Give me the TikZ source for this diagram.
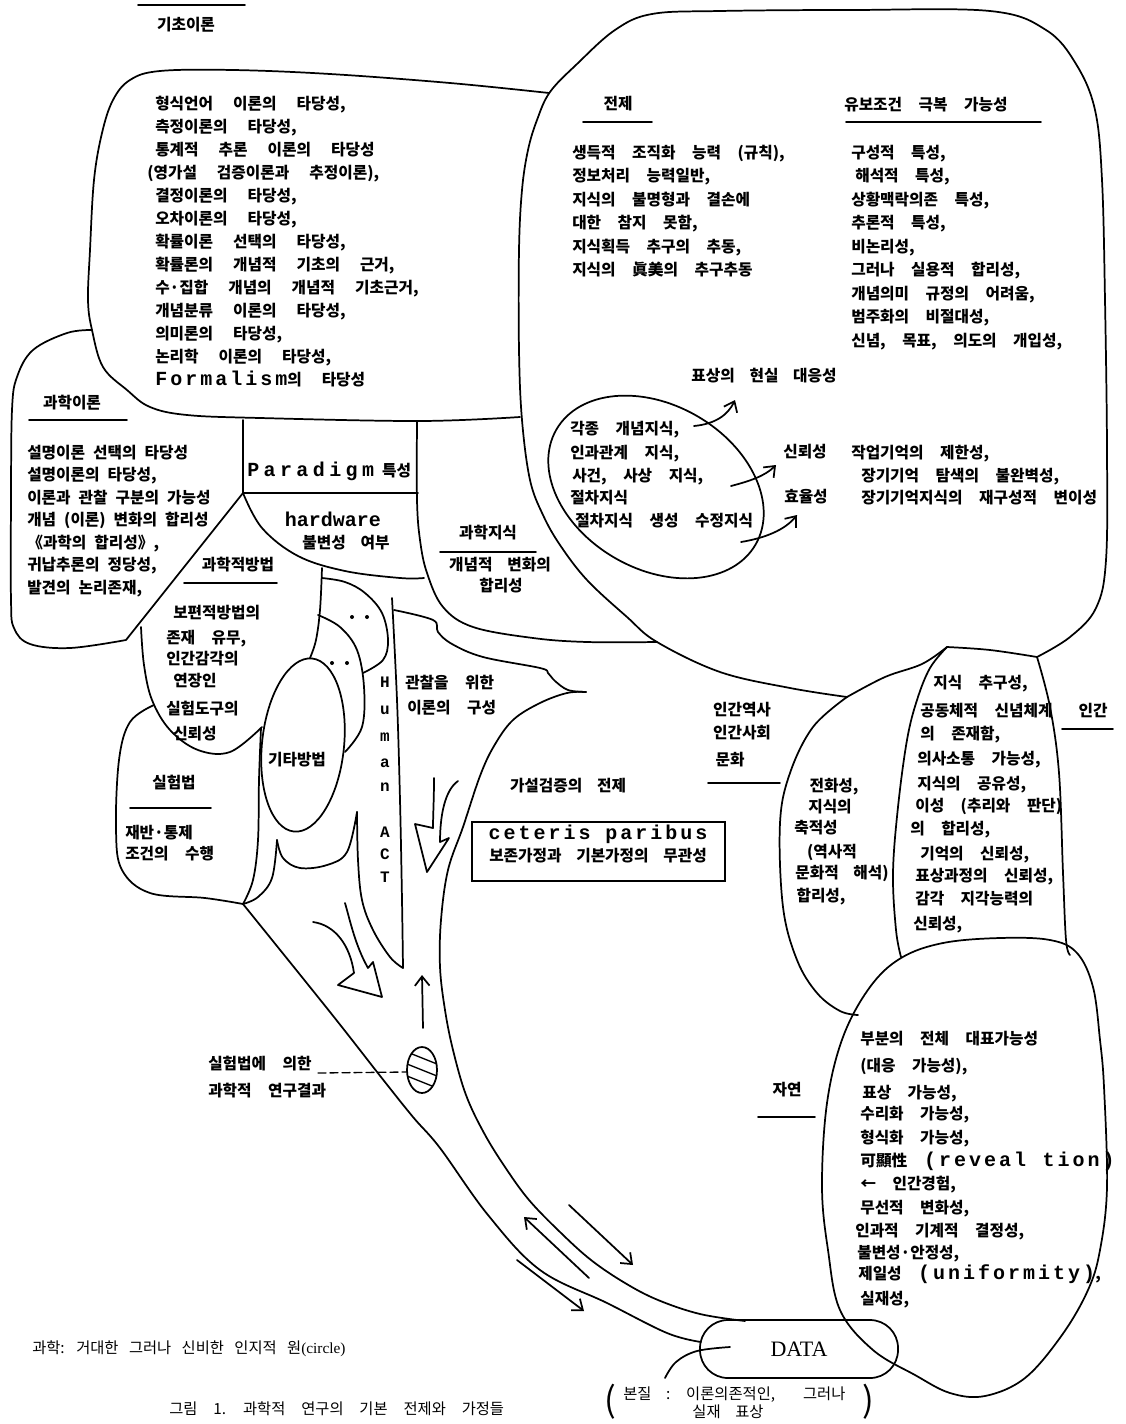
\documentclass[tikz,border=0pt]{standalone}
\usepackage{fontspec}
\usetikzlibrary{arrows.meta}
\newfontfamily\kr{Noto Sans CJK KR}
\newfontfamily\lat{Liberation Mono}[LetterSpace=15]
\newfontfamily\latp{Liberation Mono}[LetterSpace=22]
\newfontfamily\latn{Liberation Mono}
\newfontfamily\ser{Liberation Serif}
\newcommand\Lw[1]{{\lat\fontsize{15}{15}\selectfont #1}}
\newcommand\Lp[1]{{\latp\fontsize{15}{15}\selectfont #1}}
\newcommand\Ln[1]{{\latn\fontsize{15}{15}\selectfont #1}}
\tikzset{
 ol/.style={line width=1.3pt,line cap=round,line join=round},
 sl/.style={line width=1pt,line cap=round},
 kA/.style={font=\kr\bfseries\fontsize{11.8}{14}\selectfont,inner sep=0pt,anchor=base west,execute at begin node={\spaceskip=15pt\relax}},
 kB/.style={font=\kr\bfseries\fontsize{11.8}{14}\selectfont,inner sep=0pt,anchor=base west,execute at begin node={\spaceskip=6pt\relax}},
 kC/.style={font=\kr\bfseries\fontsize{11.8}{14}\selectfont,inner sep=0pt,anchor=base west,execute at begin node={\spaceskip=12.4pt\relax}},
 lab/.style={font=\kr\bfseries\fontsize{11.8}{14}\selectfont,inner sep=0pt,execute at begin node={\spaceskip=11pt\relax}},
 captxt/.style={font=\kr\fontsize{11.5}{14}\selectfont,inner sep=0pt,anchor=base west,execute at begin node={\spaceskip=7.8pt\relax}},
 captxtb/.style={font=\kr\fontsize{11.5}{14}\selectfont,inner sep=0pt,anchor=base west,execute at begin node={\spaceskip=11.9pt\relax}},
 capc/.style={font=\kr\fontsize{11.5}{14}\selectfont,inner sep=0pt,execute at begin node={\spaceskip=11pt\relax}},
 hum/.style={font=\latn\bfseries\fontsize{12}{12}\selectfont,inner sep=0pt},
 arr/.style={ol,-{Straight Barb[length=7pt,width=11pt]}},
 dot/.style={fill=black,inner sep=0pt,minimum size=3pt,circle},
}
\begin{document}
\begin{tikzpicture}[x=0.75pt,y=-0.75pt]
\useasboundingbox (0,0) rectangle (1125,1424);

% ---------------- outlines ----------------
\draw[ol] (138,5) -- (245,5);
% top-left box
\draw[ol] plot[smooth,tension=0.6] coordinates {(549,93) (450,83) (330,74) (233,70) (160,71) (130,80) (113,100) (102,133) (94,180) (90,250) (88,300) (92,330) (103,367) (127,390) (150,407) (187,415) (260,418) (420,421) (520,417)};
% science-theory blob
\draw[ol] plot[smooth,tension=0.6] coordinates {(92,330) (67,333) (33,350) (17,377) (12,410) (11,500) (11,600) (14,628) (30,644) (70,648) (126,640)} -- (243,493) -- (243,420);
\draw[ol] (243,493) -- (418,493);
\draw[ol] plot[smooth,tension=0.6] coordinates {(417,421) (417,500) (420,540) (427,573) (443,607) (473,627) (533,638) (587,642) (657,642)};
\draw[ol] plot[smooth,tension=0.6] coordinates {(243,493) (262,528) (298,556) (345,571) (400,578) (424,578)};
% big right blob
\draw[ol] plot[smooth,tension=0.6] coordinates {(847,697) (790,688) (720,672) (657,642) (627,617) (587,580) (560,545) (543,515) (530,480) (522,420) (519,350) (519,250) (522,190) (528,150) (537,120) (550,92) (577,64) (615,30) (652,14) (720,11) (850,10) (990,11) (1046,30) (1076,64) (1095,110) (1102,180) (1105,300) (1107,450) (1106,560) (1096,608) (1070,637) (1037,657)};
\draw[ol] plot[smooth,tension=0.6] coordinates {(847,697) (885,677) (922,664) (947,647)};
\draw[ol] plot[smooth,tension=0.6] coordinates {(947,647) (990,650) (1037,657)};
% lower right blobs
\draw[ol] plot[smooth,tension=0.6] coordinates {(847,697) (813,727) (790,773) (780,823) (783,907) (797,960) (817,993) (840,1011) (858,1015)};
\draw[ol] plot[smooth,tension=0.6] coordinates {(947,647) (930,668) (917,700) (907,740) (898,807) (893,873) (896,930) (901,957)};
\draw[ol] plot[smooth,tension=0.6] coordinates {(1037,657) (1050,707) (1059,773) (1063,873) (1066,940) (1070,955)};
\draw[ol] plot[smooth cycle,tension=0.6] coordinates {(915,1375) (873,1350) (840,1310) (828,1250) (822,1187) (827,1103) (843,1037) (870,987) (901,958) (943,943) (1000,938) (1050,940) (1077,953) (1093,987) (1100,1040) (1104,1087) (1107,1187) (1100,1250) (1088,1290) (1062,1335) (1025,1378) (985,1396) (950,1393)};
% knowledge ellipse
\draw[ol,rotate around={-30:(656,487)}] (656,487) ellipse [x radius=115, y radius=82];
% method shapes
\draw[ol] plot[smooth,tension=0.6] coordinates {(322,568) (320,610) (316,640) (310,658)};
\draw[ol] plot[smooth,tension=0.6] coordinates {(141,627) (144,665) (152,700) (170,730) (198,750) (230,752) (262,727)};
\draw[ol] plot[smooth,tension=0.6] coordinates {(322,578) (345,582) (365,593) (382,613) (388,640) (383,660) (363,673)};
\draw[ol] plot[smooth,tension=0.6] coordinates {(318,615) (340,627) (357,650) (364,687) (362,727) (345,752)};
\draw[ol,rotate around={-6:(303,745)}] (303,745) ellipse [x radius=41, y radius=87];
\node[dot] (d1) at (352,617) {};
\node[dot] (d2) at (367,617) {};
\node[dot] (d3) at (332,663) {};
\node[dot] (d4) at (347,663) {};
% experiment blob
\draw[ol] plot[smooth,tension=0.6] coordinates {(154,705) (130,722) (119,760) (116,830) (122,870) (150,893) (205,898) (243,904)};
\draw[ol] plot[smooth,tension=0.6] coordinates {(261,728) (259,780) (258,840) (253,880) (243,904)};
% cusps and funnel
\draw[ol] plot[smooth,tension=0.6] coordinates {(243,904) (258,897) (272,878) (277,840)};
\draw[ol] plot[smooth,tension=0.6] coordinates {(277,840) (283,858) (300,868) (327,865) (347,852) (357,812)};
\draw[ol] plot[smooth,tension=0.6] coordinates {(357,812) (358,860) (362,900) (373,930) (390,957) (403,968)};
\draw[ol] plot[smooth,tension=0.6] coordinates {(392,598) (397,700) (400,800) (402,900) (403,968)};
% observation theory region
\draw[ol] plot[smooth,tension=0.6] coordinates {(394,610) (433,620) (438,632) (452,644) (483,657) (540,668) (548,673) (555,681) (568,690) (586,692)};
\draw[ol] plot[smooth,tension=0.6] coordinates {(586,692) (567,693) (540,703) (513,720) (494,746) (480,776) (463,827) (448,870) (441,920) (440,967) (445,1010) (453,1050) (466,1095) (484,1133) (505,1167) (529,1200) (560,1232) (591,1260) (625,1283) (658,1300) (700,1314) (745,1321)};
\draw[ol] plot[smooth,tension=0.6] coordinates {(243,904) (330,1012) (381,1077) (413,1117) (440,1148) (488,1215) (540,1270) (607,1303) (667,1333) (701,1342)};
% hollow arrows
\draw[ol] (434,778) .. controls (434,800) and (433,815) .. (433,828) -- (415,824) -- (427,872) -- (449,838) -- (440,842) .. controls (440,815) and (445,790) .. (458,781);
\draw[ol] (313,922) .. controls (335,925) and (350,945) .. (354,973) -- (338,985) -- (382,997) -- (373,962) -- (368,968) .. controls (355,945) and (350,920) .. (345,903);
\draw[arr] (423,1028) -- (422,975);
% hatched result
\coordinate (hc) at (422,1070);
\draw[ol] (hc) ellipse [x radius=15, y radius=23];
\begin{scope}
\clip (hc) ellipse [x radius=15, y radius=23];
\foreach \d in {-24,-12,0,12,24} \draw[sl] (402,1070+\d-8) -- (442,1070+\d+8);
\end{scope}
\coordinate (dl) at (318,1073);
\coordinate (hl) at (407,1072);
\draw[sl,dash pattern=on 6pt off 3pt] (dl) -- (hl);
% arm arrows
\draw[arr] (569,1205) -- (633,1265);
\draw[arr] (589,1278) -- (524,1217);
\draw[arr] (517,1260) -- (584,1311);
% knowledge arrows
\draw[arr] (694,426) .. controls (715,424) and (728,415) .. (735,400);
\draw[arr] (731,486) .. controls (750,481) and (765,476) .. (776,465);
\draw[arr] (741,542) .. controls (765,538) and (785,530) .. (797,515);
% DATA
\node[draw,ol,rounded corners=21pt,minimum width=148.5pt,minimum height=43.5pt,inner sep=0pt,font=\ser\fontsize{16.5}{16.5}\selectfont] (data) at (799,1349) {DATA};
\draw[ol] plot[smooth,tension=0.6] coordinates {(730,1347) (697,1351) (676,1362) (665,1378)};
% ceteris box
\node[draw,line width=1pt,minimum width=189.75pt,minimum height=44.25pt,inner sep=0pt] (cet) at (598.5,851.5) {};
\node[lab] (cet1) at (598,834) {\Lw{ceteris paribus}};
\node[lab] (cet2) at (598,856) {보존가정과 기본가정의 무관성};

% underlines
\draw[ol] (29,420) -- (127,420);
\draw[ol] (184,583) -- (277,583);
\draw[ol] (440,552) -- (536,552);
\draw[ol] (583,122) -- (652,122);
\draw[ol] (846,122) -- (1041,122);
\draw[ol] (130,808) -- (211,808);
\draw[ol] (708,783) -- (780,783);
\draw[ol] (1062,729) -- (1113,729);
\draw[ol] (758,1117) -- (815,1117);

% ---------------- texts ----------------
\node[lab] (t0) at (186,25) {기초이론};
\node[kA] (tl1) at (155,109) {형식언어 이론의 타당성,};
\node[kA] (tl2) at (155,132) {측정이론의 타당성,};
\node[kA] (tl3) at (155,155) {통계적 추론 이론의 타당성};
\node[kA] (tl4) at (147,178) {(영가설 검증이론과 추정이론),};
\node[kA] (tl5) at (155,201) {결정이론의 타당성,};
\node[kA] (tl6) at (155,224) {오차이론의 타당성,};
\node[kA] (tl7) at (155,247) {확률이론 선택의 타당성,};
\node[kA] (tl8) at (155,270) {확률론의 개념적 기초의 근거,};
\node[kA] (tl9) at (155,293) {수·집합 개념의 개념적 기초근거,};
\node[kA] (tl10) at (155,316) {개념분류 이론의 타당성,};
\node[kA] (tl11) at (155,339) {의미론의 타당성,};
\node[kA] (tl12) at (155,362) {논리학 이론의 타당성,};
\node[kA] (tl13) at (155,385) {\Lw{Formalism}의 타당성};

\node[lab] (st0) at (72,403) {과학이론};
\node[kB] (st1) at (27,458) {설명이론 선택의 타당성};
\node[kB] (st2) at (27,480) {설명이론의 타당성,};
\node[kB] (st3) at (27,503) {이론과 관찰 구분의 가능성};
\node[kB] (st4) at (27,525) {개념 (이론) 변화의 합리성};
\node[kB] (st5) at (27,548) {《과학의 합리성》,};
\node[kB] (st6) at (27,570) {귀납추론의 정당성,};
\node[kB] (st7) at (27,593) {발견의 논리존재,};

\node[kB] (pa) at (247,476) {\Lp{Paradigm} 특성};
\node[lab] (hw1) at (333,519) {\Ln{hardware}};
\node[lab] (hw2) at (346,543) {불변성 여부};
\node[lab] (sm) at (238,565) {과학적방법};
\node[lab] (sk0) at (488,533) {과학지식};
\node[lab] (sk1) at (500,565) {개념적 변화의};
\node[lab] (sk2) at (501,586) {합리성};

\node[kC] (m1) at (173,618) {보편적방법의};
\node[kC] (m2) at (166,643) {존재 유무,};
\node[kC] (m3) at (166,664) {인간감각의};
\node[kC] (m4) at (173,686) {연장인};
\node[kC] (m5) at (166,714) {실험도구의};
\node[kC] (m6) at (173,739) {신뢰성};
\node[lab] (om) at (297,760) {기타방법};
\node[lab] (ex0) at (174,783) {실험법};
\node[kC] (ex1) at (125,838) {재반·통제};
\node[kC] (ex2) at (125,859) {조건의 수행};

\foreach \ch/\yy in {H/682,u/710,m/737,a/763,n/787,A/832,C/854,T/877}
  \node[hum] (h\ch) at (385,\yy) {\ch};
\node[kC] (ob1) at (405,688) {관찰을 위한};
\node[kC] (ob2) at (407,713) {이론의 구성};
\node[lab] (hy) at (568,786) {가설검증의 전제};
\node[kC] (rs1) at (208,1069) {실험법에 의한};
\node[kC] (rs2) at (208,1096) {과학적 연구결과};

\node[lab] (pr0) at (618,104) {전제};
\node[kC] (rv0) at (844,110) {유보조건 극복 가능성};
\node[kC] (p1) at (572,158) {생득적 조직화 능력 (규칙),};
\node[kC] (p2) at (572,181) {정보처리 능력일반,};
\node[kC] (p3) at (572,205) {지식의 불명형과 결손에};
\node[kC] (p4) at (572,228) {대한 참지 못함,};
\node[kC] (p5) at (572,252) {지식획득 추구의 추동,};
\node[kC] (p6) at (572,275) {지식의 眞美의 추구추동};
\node[kC] (r1) at (851,158) {구성적 특성,};
\node[kC] (r2) at (855,181) {해석적 특성,};
\node[kC] (r3) at (851,205) {상황맥락의존 특성,};
\node[kC] (r4) at (851,228) {추론적 특성,};
\node[kC] (r5) at (851,252) {비논리성,};
\node[kC] (r6) at (851,275) {그러나 실용적 합리성,};
\node[kC] (r7) at (851,299) {개념의미 규정의 어려움,};
\node[kC] (r8) at (851,322) {범주화의 비절대성,};
\node[kC] (r9) at (851,346) {신념, 목표, 의도의 개입성,};
\node[lab] (rep) at (764,376) {표상의 현실 대응성};
\node[kC] (k1) at (570,434) {각종 개념지식,};
\node[kC] (k2) at (570,458) {인과관계 지식,};
\node[kC] (k3) at (572,481) {사건, 사상 지식,};
\node[kC] (k4) at (570,503) {절차지식};
\node[kC] (k5) at (575,526) {절차지식 생성 수정지식};
\node[lab] (rel) at (805,452) {신뢰성};
\node[lab] (eff) at (806,497) {효율성};
\node[kC] (w1) at (851,458) {작업기억의 제한성,};
\node[kC] (w2) at (861,481) {장기기억 탐색의 불완벽성,};
\node[kC] (w3) at (861,503) {장기기억지식의 재구성적 변이성};

\node[lab] (hs1) at (742,710) {인간역사};
\node[lab] (hs2) at (742,733) {인간사회};
\node[lab] (hs3) at (730,760) {문화};
\node[lab] (c1) at (834,787) {전화성,};
\node[lab] (c2) at (830,807) {지식의};
\node[lab] (c3) at (816,828) {축적성};
\node[lab] (c4) at (832,852) {(역사적};
\node[lab] (c5) at (842,873) {문화적 해석)};
\node[lab] (c6) at (821,897) {합리성,};
\node[kC] (h1) at (933,688) {지식 추구성,};
\node[kC] (h2) at (920,716) {공동체적 신념체계};
\node[kC] (h3) at (920,739) {의 존재함,};
\node[kC] (h4) at (917,764) {의사소통 가능성,};
\node[kC] (h5) at (917,789) {지식의 공유성,};
\node[kC] (h6) at (915,811) {이성 (추리와 판단)};
\node[kC] (h7) at (910,834) {의 합리성,};
\node[kC] (h8) at (920,859) {기억의 신뢰성,};
\node[kC] (h9) at (915,881) {표상과정의 신뢰성,};
\node[kC] (h10) at (915,904) {감각 지각능력의};
\node[kC] (h11) at (913,929) {신뢰성,};
\node[lab] (hm) at (1093,710) {인간};

\node[lab] (nat) at (787,1090) {자연};
\node[kC] (n1) at (860,1044) {부분의 전체 대표가능성};
\node[kC] (n2) at (860,1071) {(대응 가능성),};
\node[kC] (n3) at (862,1098) {표상 가능성,};
\node[kC] (n4) at (860,1119) {수리화 가능성,};
\node[kC] (n5) at (860,1143) {형식화 가능성,};
\node[kC] (n6) at (860,1166) {可顯性 \Lw{(reveal tion)}};
\node[kC] (n7) at (860,1189) {← 인간경험,};
\node[kC] (n8) at (860,1213) {무선적 변화성,};
\node[kC] (n9) at (855,1236) {인과적 기계적 결정성,};
\node[kC] (n10) at (857,1258) {불변성·안정성,};
\node[kC] (n11) at (858,1279) {제일성 \Lw{(uniformity)},};
\node[kC] (n12) at (860,1304) {실재성,};

\node[capc,anchor=base west] (es1) at (623,1399) {본질 : 이론의존적인,\hspace{10pt} 그러나};
\node[capc] (es2) at (728,1412) {실재 표상};
\node[font=\kr\fontsize{26}{26}\selectfont,inner sep=0pt] (lp) at (610,1402) {(};
\node[font=\kr\fontsize{26}{26}\selectfont,inner sep=0pt] (rp) at (868,1402) {)};

\node[captxt] (cp1) at (32,1353) {과학: 거대한 그러나 신비한 인지적 원{\ser (circle)}};
\node[captxtb] (cp2) at (169,1414) {그림 1. 과학적 연구의 기본 전제와 가정들};
\end{tikzpicture}
\end{document}
